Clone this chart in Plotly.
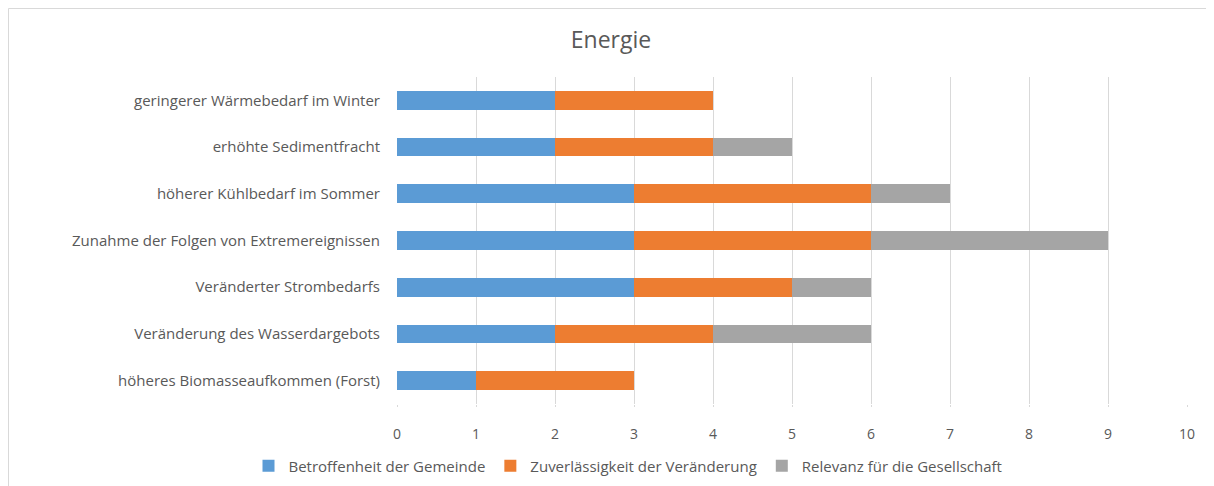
import plotly.graph_objects as go

categories = [
    "geringerer Wärmebedarf im Winter",
    "erhöhte Sedimentfracht",
    "höherer Kühlbedarf im Sommer",
    "Zunahme der Folgen von Extremereignissen",
    "Veränderter Strombedarfs",
    "Veränderung des Wasserdargebots",
    "höheres Biomasseaufkommen (Forst)",
]
betroffenheit = [2, 2, 3, 3, 3, 2, 1]
zuverlaessigkeit = [2, 2, 3, 3, 2, 2, 2]
relevanz = [0, 1, 1, 3, 1, 2, 0]

series = [
    ("Betroffenheit der Gemeinde", betroffenheit, "#5B9BD5"),
    ("Zuverlässigkeit der Veränderung", zuverlaessigkeit, "#ED7D31"),
    ("Relevanz für die Gesellschaft", relevanz, "#A5A5A5"),
]

fig = go.Figure()
for name, vals, color in series:
    fig.add_trace(go.Bar(
        y=categories, x=vals, name=name, orientation="h",
        marker=dict(color=color, line=dict(width=0)),
    ))

OFF = 8  # page body margin
W, H = 1214 - OFF, 486 - OFF
ml, mr, mt, mb = 397 - OFF, 27, 77 - OFF, 82
pw, ph = W - ml - mr, H - mt - mb

legend_cx = 628 - OFF
fig.update_layout(
    width=W, height=H,
    barmode="stack", bargap=0.6,
    margin=dict(l=ml, r=mr, t=mt, b=mb, pad=0, autoexpand=False),
    paper_bgcolor="white", plot_bgcolor="white",
    font=dict(family="Open Sans", size=15, color="#595959"),
    title=dict(text="Energie", x=0.5, xanchor="center", y=1 - (40 - OFF) / H, yanchor="middle",
               font=dict(size=23, color="#595959")),
    legend=dict(orientation="h", x=(legend_cx - ml) / pw, xanchor="center",
                y=-(466 - OFF - mt - ph) / ph,
                yanchor="middle", font=dict(size=15, color="#595959"),
                itemwidth=30, traceorder="normal"),
    xaxis=dict(range=[0, 10], dtick=1, showgrid=True, gridcolor="#D9D9D9", gridwidth=1,
               zeroline=False, showline=False, ticks="outside", ticklen=2, tickcolor="#D9D9D9",
               ticklabelstandoff=15, tickfont=dict(size=14), fixedrange=True, automargin=False),
    yaxis=dict(autorange="reversed", showgrid=False, zeroline=False, showline=False,
               ticks="", ticklabelstandoff=16, fixedrange=True, automargin=False),
    shapes=[
        dict(type="rect", xref="paper", yref="paper",
             x0=-(ml - 0.5) / pw, x1=1 + (mr - 4) / pw,
             y0=-(mb + 10) / ph, y1=1 + (mt - 0.5) / ph,
             line=dict(color="#D9D9D9", width=1), fillcolor="rgba(0,0,0,0)", layer="below"),
    ],
)

fig.write_html("out.html")
